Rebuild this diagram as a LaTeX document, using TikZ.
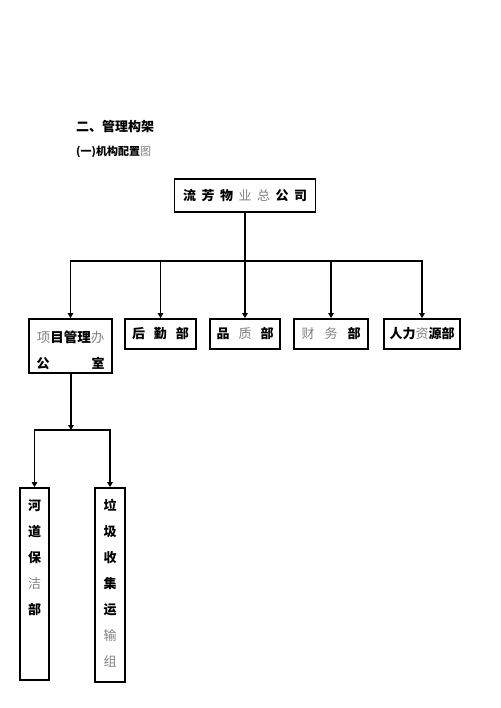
\documentclass[tikz,border=0pt]{standalone}
\usepackage{fontspec}
\newfontfamily\cjk{Noto Sans CJK SC}
\usetikzlibrary{arrows.meta}
\definecolor{lt}{HTML}{808080}
\newcommand{\g}[1]{{\mdseries\color{lt}#1}}
\tikzset{
  box/.style={draw, line width=1.8pt, inner sep=0pt, font=\cjk\bfseries\fontsize{13}{15}\selectfont},
  conn/.style={line width=1.8pt},
  arr/.style={line width=1.8pt, -{Triangle[length=5pt,width=5.5pt]}},
  vtext/.style={anchor=north, inner sep=0pt, align=center, font=\cjk\bfseries\fontsize{13}{26}\selectfont}
}
\begin{document}
\begin{tikzpicture}[x=1pt,y=-1pt]
\useasboundingbox (0,0) rectangle (500,708);
\node[anchor=west, inner sep=0pt, font=\cjk\bfseries\fontsize{13}{15}\selectfont] (h1) at (76,127) {二、管理构架};
\node[anchor=west, inner sep=0pt, font=\cjk\bfseries\fontsize{11}{13}\selectfont] (h2) at (76,152) {(一)机构配置\g{图}};

\node[box, minimum width=141pt, minimum height=33pt] (top) at (245,195.5) {流\hspace{5.5pt}芳\hspace{5.5pt}物\hspace{5.5pt}\g{业}\hspace{5.5pt}\g{总}\hspace{5.5pt}公\hspace{5.5pt}司};

\node[box, minimum width=83pt, minimum height=54pt] (b1) at (70.5,346) {};
\node[anchor=center, inner sep=0pt, font=\cjk\bfseries\fontsize{13.5}{15}\selectfont] (b1a) at (70.5,337) {\g{项}目管理\g{办}};
\node[anchor=center, inner sep=0pt, font=\cjk\bfseries\fontsize{13}{15}\selectfont] (b1b) at (70.5,363) {公\hspace{42pt}室};

\node[box, minimum width=71pt, minimum height=30pt] (b2) at (160.5,334) {后\hspace{9pt}勤\hspace{9pt}部};
\node[box, minimum width=70pt, minimum height=30pt] (b3) at (245,334) {品\hspace{9pt}\g{质}\hspace{9pt}部};
\node[box, minimum width=74pt, minimum height=30pt] (b4) at (331,334) {\g{财}\hspace{10pt}\g{务}\hspace{10pt}部};
\node[box, minimum width=76pt, minimum height=30pt] (b5) at (422,334) {人力\g{资}源部};

\node[box, minimum width=29pt, minimum height=192pt] (c1) at (34.5,584) {};
\node[vtext] (c1t) at (34.5,499) {河\\道\\保\\\g{洁}\\部};
\node[box, minimum width=30pt, minimum height=194pt] (c2) at (110,585) {};
\node[vtext] (c2t) at (110,499) {垃\\圾\\收\\集\\运\\\g{输}\\\g{组}};

\coordinate (bar) at (245,261);
\coordinate (barL) at (b1.north |- bar);
\coordinate (barR) at (b5.north |- bar);
\draw[conn] (top.south) -- (bar);
\draw[conn, line cap=rect] (barL) -- (barR);
\draw[arr] (barL) -- (b1.north);
\draw[arr] (b2.north |- bar) -- (b2.north);
\draw[arr] (bar) -- (b3.north);
\draw[arr] (b4.north |- bar) -- (b4.north);
\draw[arr] (barR) -- (b5.north);

\coordinate (bar2) at (71,430);
\coordinate (bar2L) at (c1.north |- bar2);
\coordinate (bar2R) at (c2.north |- bar2);
\draw[arr] (b1.south -| bar2) -- (bar2);
\draw[conn, line cap=rect] (bar2L) -- (bar2R);
\draw[arr] (bar2L) -- (c1.north);
\draw[arr] (bar2R) -- (c2.north);
\end{tikzpicture}
\end{document}
